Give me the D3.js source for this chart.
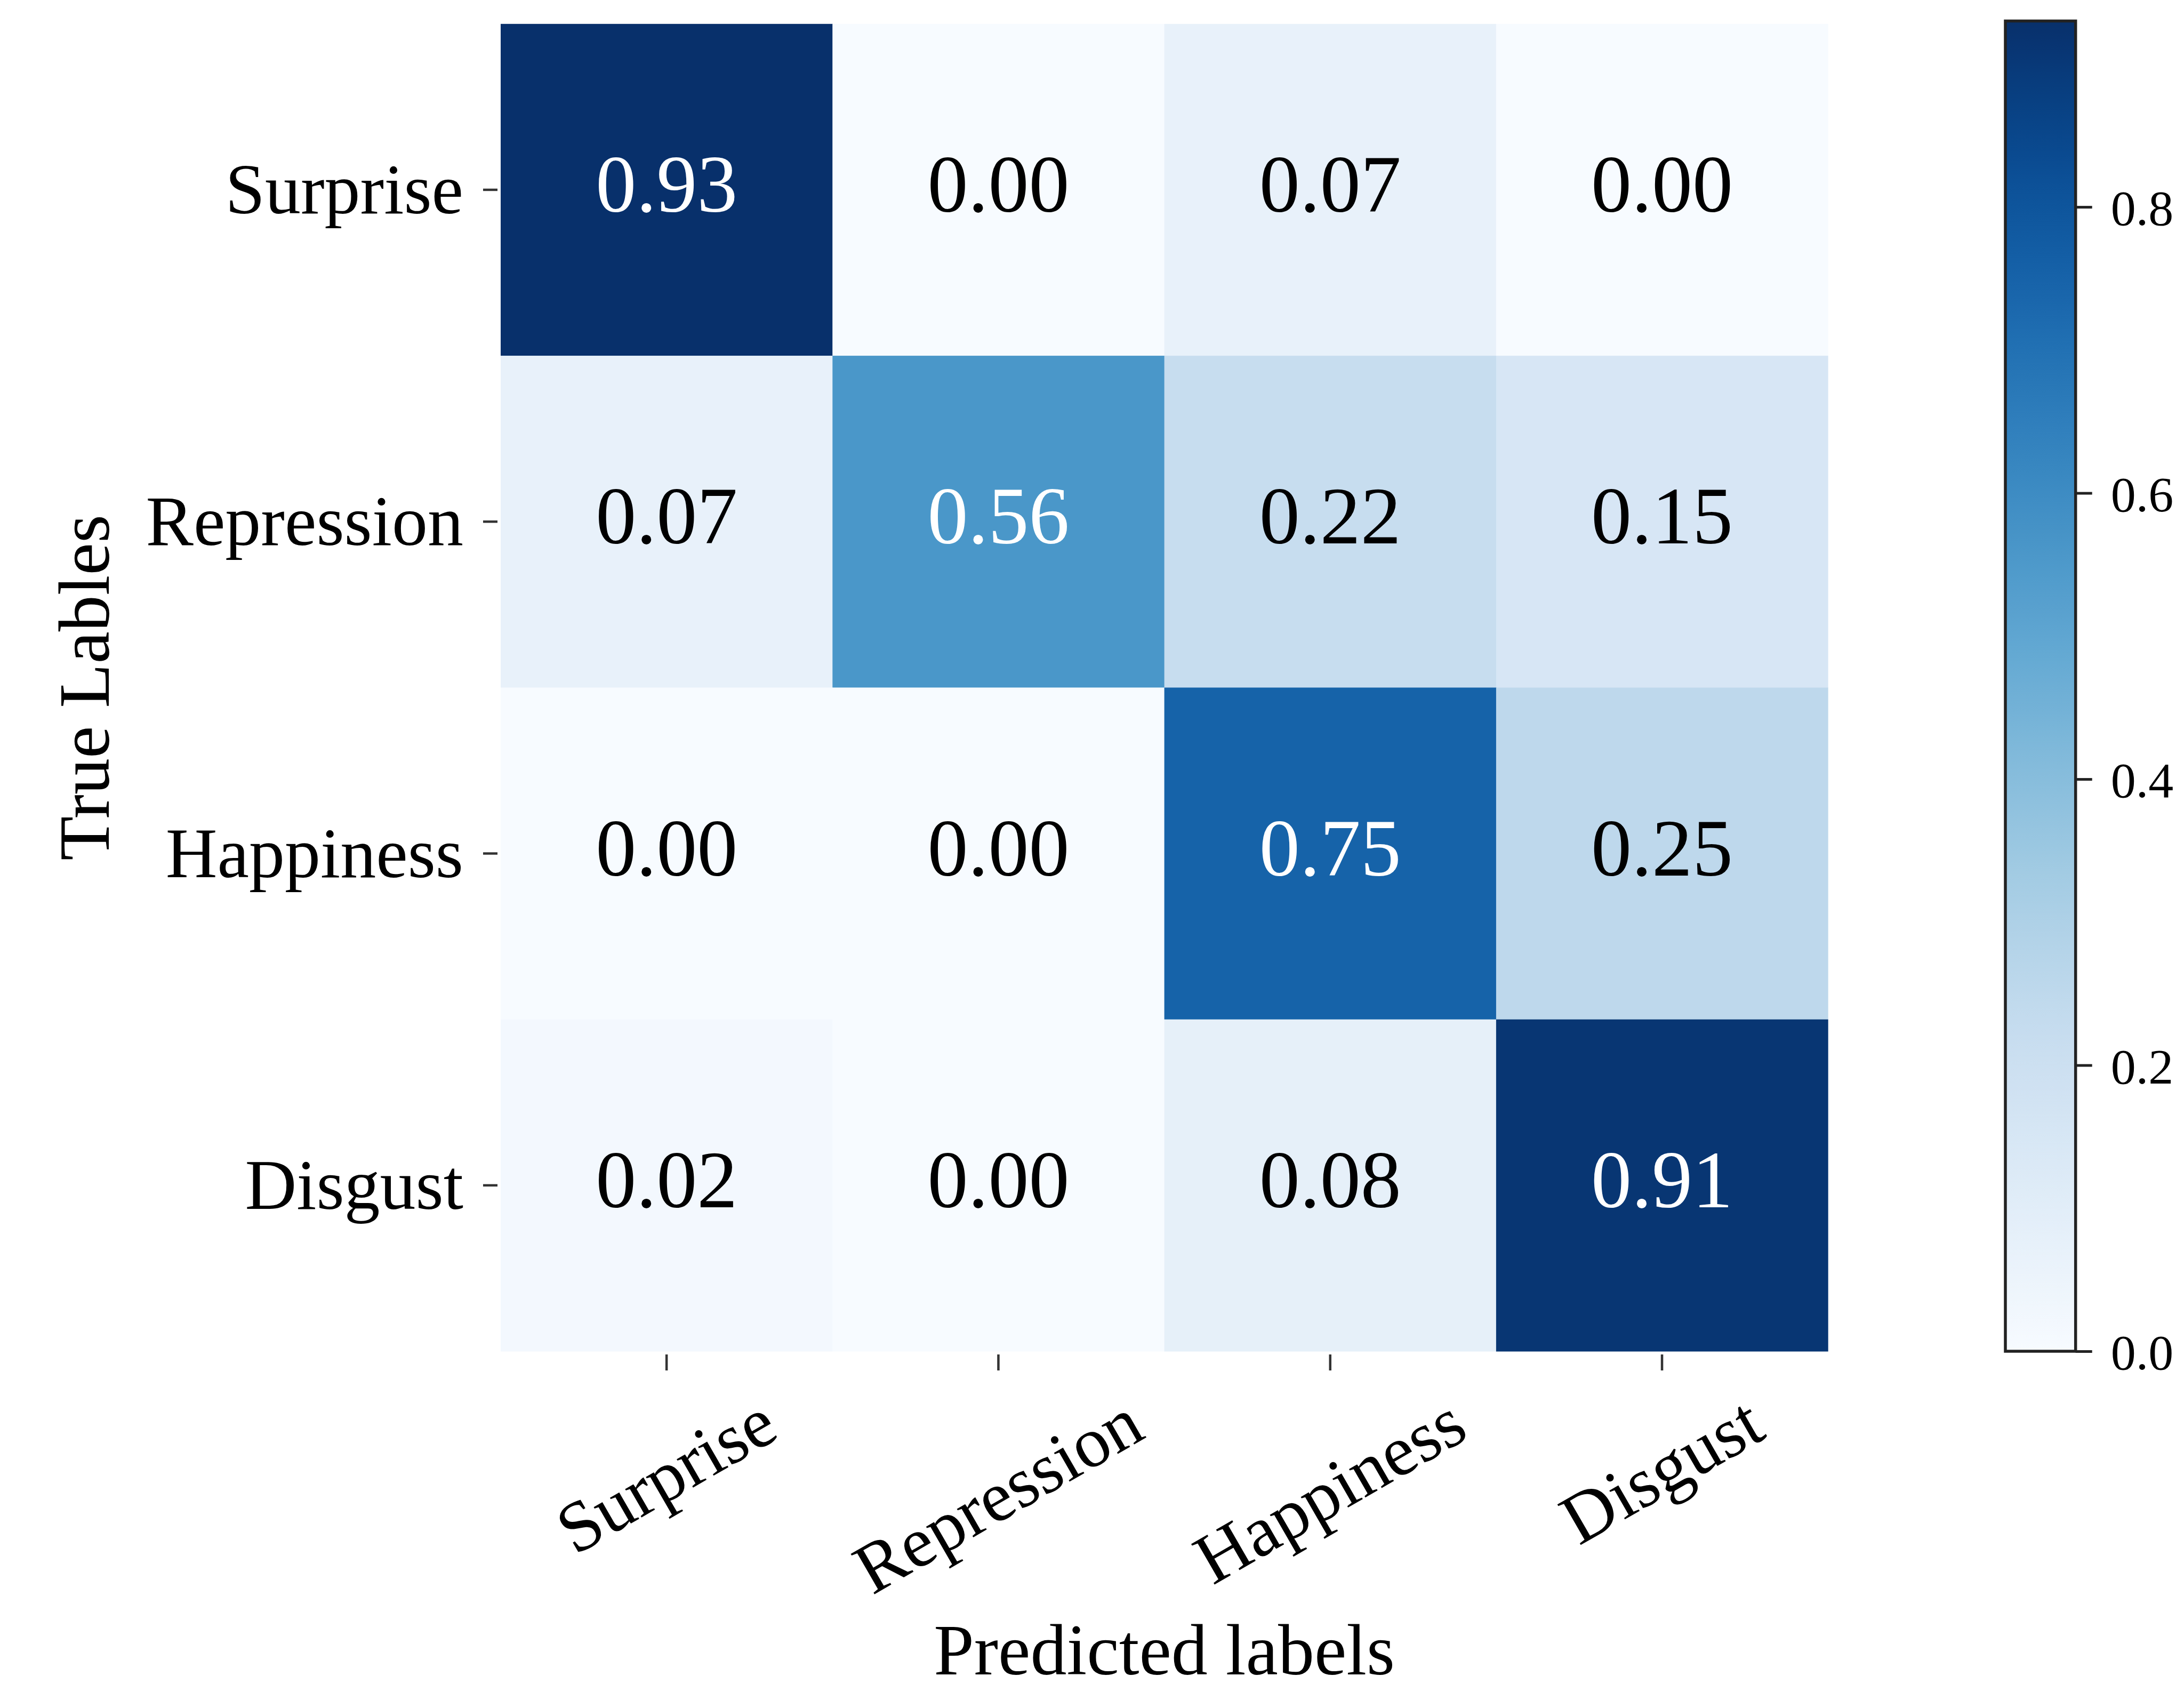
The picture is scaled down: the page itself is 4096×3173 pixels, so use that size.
<!DOCTYPE html>
<html>
<head>
<meta charset="utf-8">
<script src="https://cdn.jsdelivr.net/npm/d3@7"></script>
<style>
  html, body { margin: 0; padding: 0; background: #fff; }
  svg { display: block; }
</style>
</head>
<body>
<div id="chart"></div>
<script>
// confusion matrix values, rows = true label, columns = predicted
const labels = ["Surprise", "Repression", "Happiness", "Disgust"];
const matrix = [
  [0.93, 0.00, 0.07, 0.00],
  [0.07, 0.56, 0.22, 0.15],
  [0.00, 0.00, 0.75, 0.25],
  [0.02, 0.00, 0.08, 0.91]
];
const colorbarTicks = [0.0, 0.2, 0.4, 0.6, 0.8];
const xTitle = "Predicted labels";
const yTitle = "True Lables";

const width = 4096, height = 3173;
const font = "'Liberation Serif', 'Times New Roman', serif";

// layout (already at 0.896 of the reference)
const mapLeft = 939, mapTop = 44.8, cell = 622.3;
const cbLeft = 3761, cbWidth = 131.7, cbTop = 39.4;
const mapBottom = mapTop + cell * labels.length;
const mapRight = mapLeft + cell * labels.length;

const svg = d3.select("#chart").append("svg")
    .attr("width", width)
    .attr("height", height)
    .attr("viewBox", [0, 0, width, height]);

svg.append("rect").attr("width", width).attr("height", height).attr("fill", "#fff");

const x = d3.scaleBand().domain(labels).range([mapLeft, mapRight]);
const y = d3.scaleBand().domain(labels).range([mapTop, mapBottom]);

const flat = matrix.flatMap((row, i) => row.map((v, j) => ({row: labels[i], col: labels[j], value: v})));
const color = d3.scaleSequential(d3.interpolateBlues)
    .domain([d3.min(flat, d => d.value), d3.max(flat, d => d.value)]);

// seaborn style: light text on dark cells
function luminance(c) {
  const rgb = d3.rgb(c);
  const lin = v => { v /= 255; return v <= 0.03928 ? v / 12.92 : Math.pow((v + 0.055) / 1.055, 2.4); };
  return 0.2126 * lin(rgb.r) + 0.7152 * lin(rgb.g) + 0.0722 * lin(rgb.b);
}

svg.append("g")
  .selectAll("rect")
  .data(flat)
  .join("rect")
    .attr("x", d => x(d.col))
    .attr("y", d => y(d.row))
    .attr("width", x.bandwidth() + 0.5)
    .attr("height", y.bandwidth() + 0.5)
    .attr("fill", d => color(d.value));

svg.append("g")
    .attr("font-family", font)
    .attr("font-size", 152)
    .attr("text-anchor", "middle")
  .selectAll("text")
  .data(flat)
  .join("text")
    .attr("x", d => x(d.col) + x.bandwidth() / 2)
    .attr("y", d => y(d.row) + y.bandwidth() / 2)
    .attr("dy", "0.27em")
    .attr("fill", d => luminance(color(d.value)) > 0.408 ? "#000" : "#fff")
    .text(d => d3.format(".2f")(d.value));

// y axis
svg.append("g")
    .attr("transform", `translate(${mapLeft - 6},0)`)
    .call(d3.axisLeft(y).tickSize(27).tickPadding(37))
    .call(g => g.select(".domain").remove())
    .call(g => g.selectAll(".tick line").attr("stroke", "#333").attr("stroke-width", 4.5))
    .call(g => g.selectAll(".tick text")
        .attr("font-family", font)
        .attr("font-size", 134)
        .attr("fill", "#000")
        .attr("dy", "0.33em"));

// x axis, labels rotated 30 degrees and centred under the tick
const xAxis = svg.append("g")
    .attr("transform", `translate(0,${mapBottom + 6})`)
    .call(d3.axisBottom(x).tickSize(30))
    .call(g => g.select(".domain").remove())
    .call(g => g.selectAll(".tick line").attr("stroke", "#333").attr("stroke-width", 4.5));

xAxis.selectAll(".tick text")
    .attr("font-family", font)
    .attr("font-size", 134)
    .attr("fill", "#000")
    .attr("text-anchor", "middle")
    .attr("y", 0)
    .attr("dy", "0.32em")
    .attr("transform", function() {
      const w = this.getComputedTextLength();
      const h = 134 * 1.107;
      const half = (w / 2) * Math.sin(Math.PI / 6) + (h / 2) * Math.cos(Math.PI / 6);
      return `translate(0,${53 + half}) rotate(-30)`;
    });

// axis titles
svg.append("text")
    .attr("font-family", font)
    .attr("font-size", 136)
    .attr("text-anchor", "middle")
    .attr("x", (mapLeft + mapRight) / 2)
    .attr("y", 3140)
    .text(xTitle);

svg.append("text")
    .attr("font-family", font)
    .attr("font-size", 136)
    .attr("text-anchor", "middle")
    .attr("transform", `translate(204,${(mapTop + mapBottom) / 2}) rotate(-90)`)
    .text(yTitle);

// colorbar
const cb = d3.scaleLinear().domain(color.domain()).range([mapBottom, cbTop]);

const grad = svg.append("defs").append("linearGradient")
    .attr("id", "cbgrad")
    .attr("x1", 0).attr("y1", 1).attr("x2", 0).attr("y2", 0);
grad.selectAll("stop")
  .data(d3.ticks(0, 1, 40))
  .join("stop")
    .attr("offset", d => d)
    .attr("stop-color", d => d3.interpolateBlues(d));

svg.append("rect")
    .attr("x", cbLeft)
    .attr("y", cbTop)
    .attr("width", cbWidth)
    .attr("height", mapBottom - cbTop)
    .attr("fill", "url(#cbgrad)")
    .attr("stroke", "#222")
    .attr("stroke-width", 5.5);

svg.append("g")
    .attr("transform", `translate(${cbLeft + cbWidth},0)`)
    .call(d3.axisRight(cb).tickValues(colorbarTicks).tickFormat(d3.format(".1f")).tickSize(31).tickPadding(35))
    .call(g => g.select(".domain").remove())
    .call(g => g.selectAll(".tick line").attr("stroke", "#222").attr("stroke-width", 5))
    .call(g => g.selectAll(".tick text")
        .attr("font-family", font)
        .attr("font-size", 94)
        .attr("fill", "#000")
        .attr("dy", "0.36em"));
</script>
</body>
</html>
